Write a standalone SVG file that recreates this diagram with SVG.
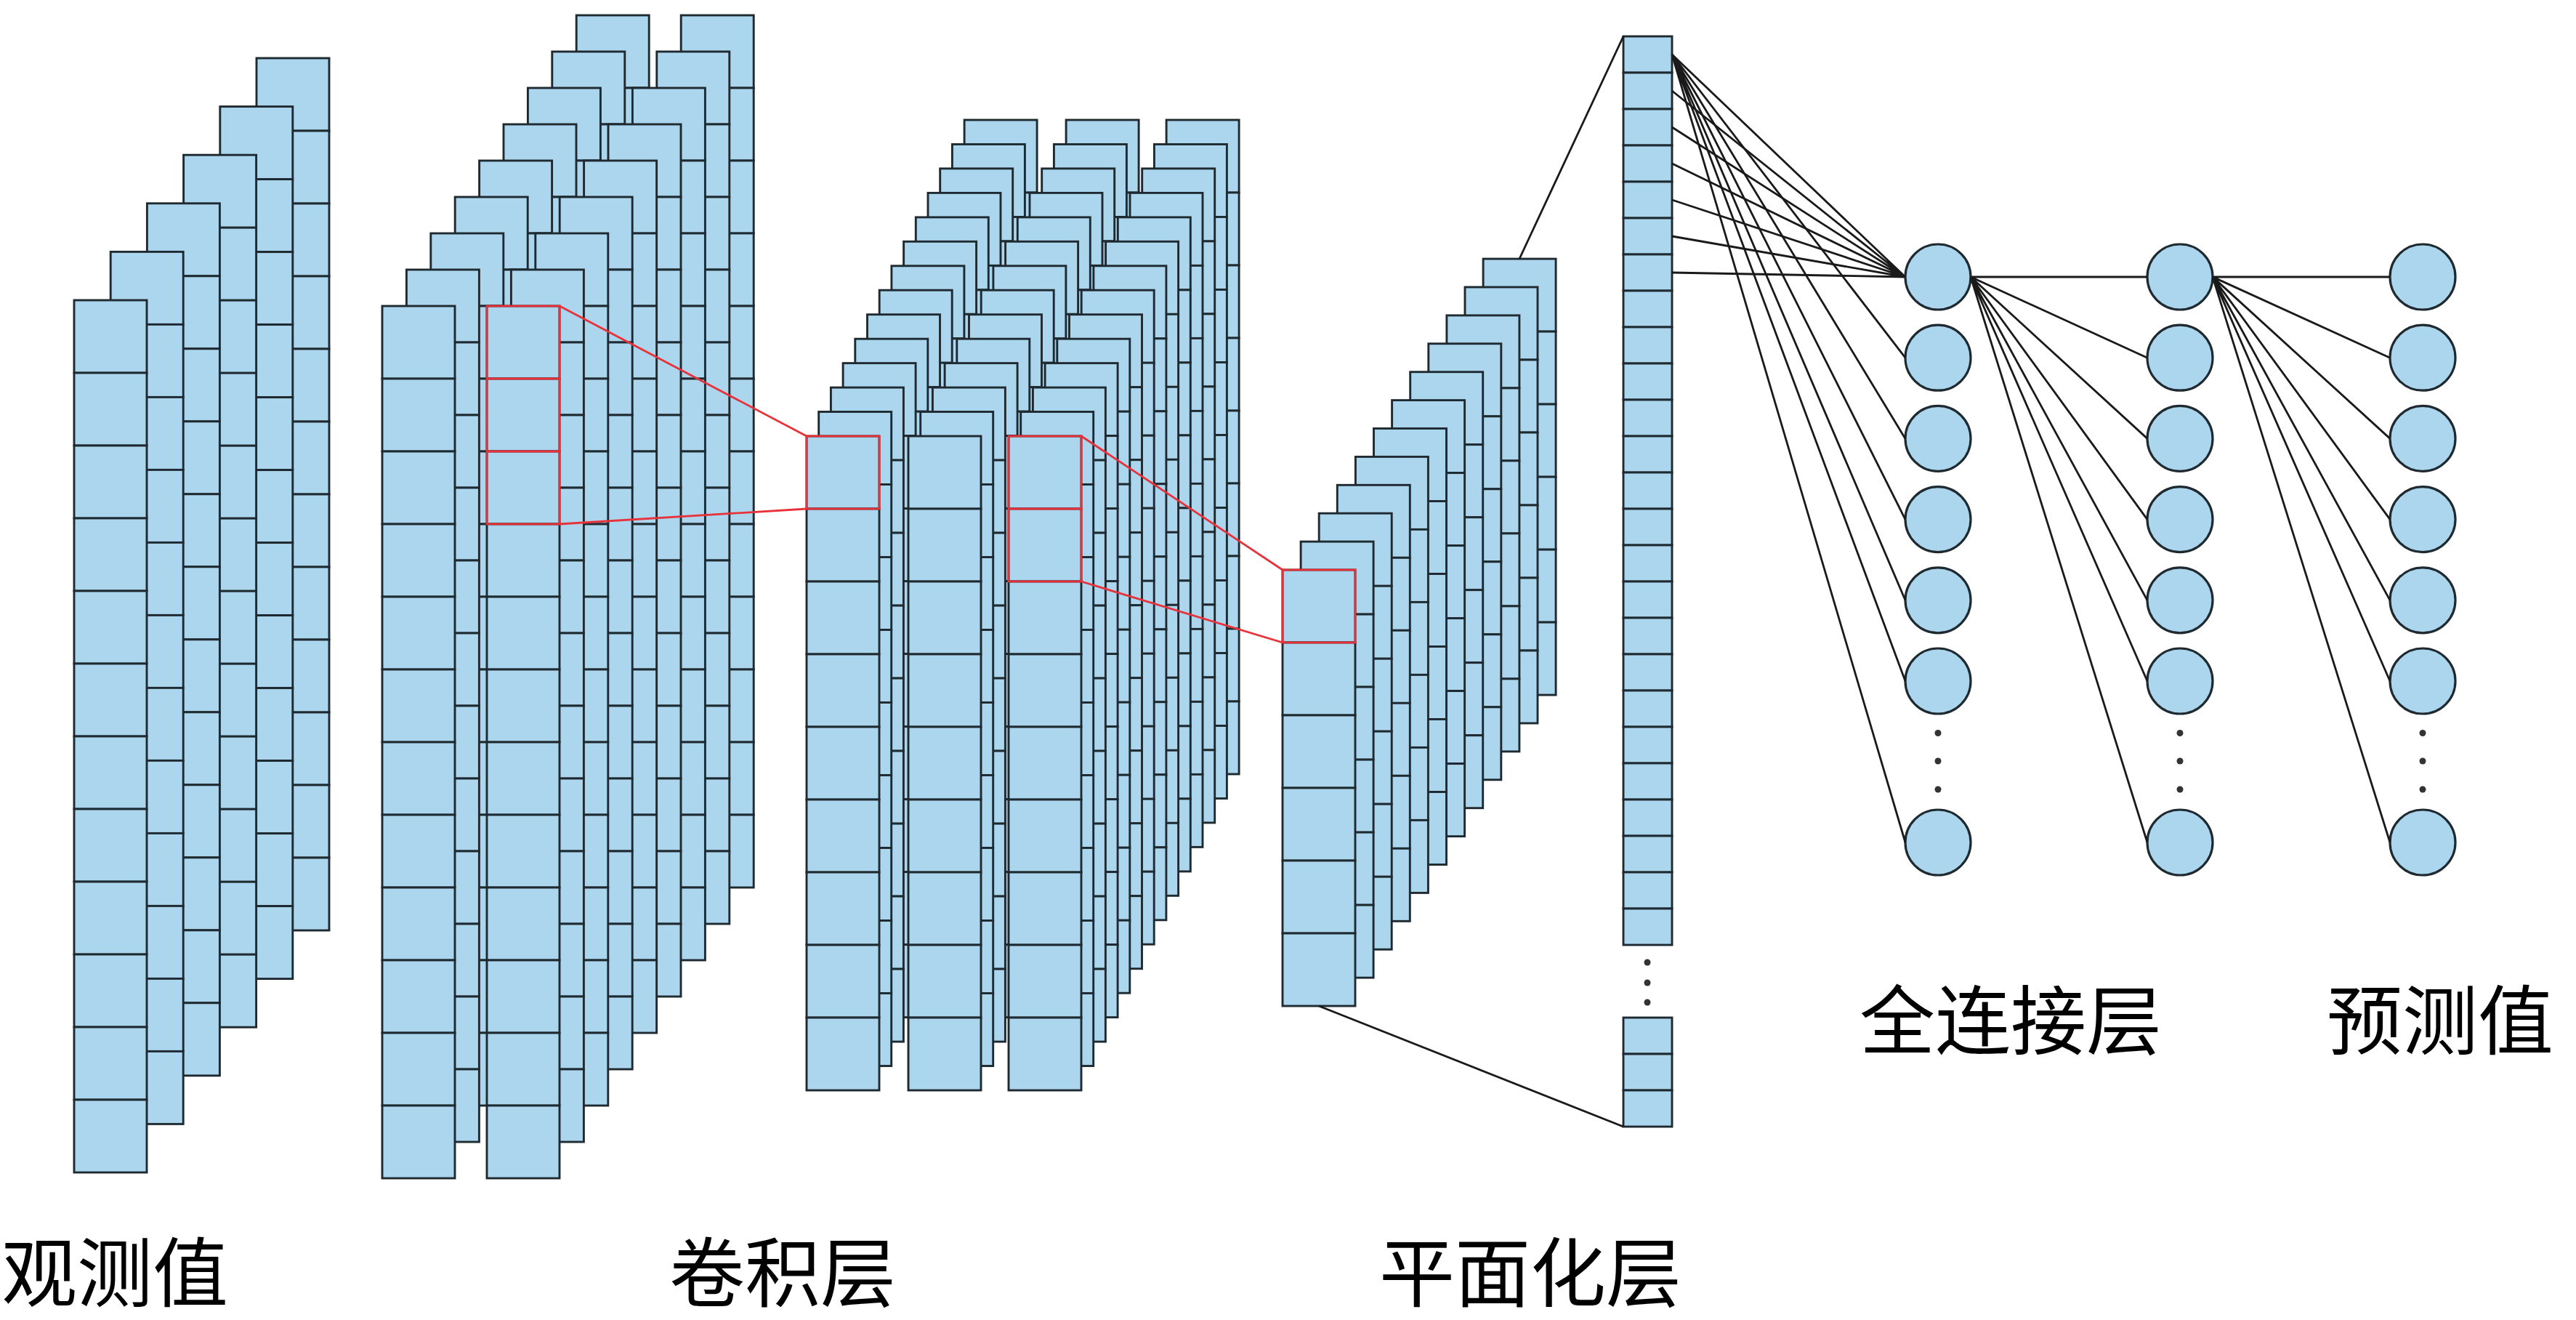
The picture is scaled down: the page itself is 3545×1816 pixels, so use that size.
<svg xmlns="http://www.w3.org/2000/svg" width="3545" height="1816" viewBox="0 0 3545 1816">
<style>
.lbl { font-family: "Noto Sans CJK SC", "Noto Sans CJK JP", sans-serif; font-size: 104px; fill: #000; text-anchor: middle; }
.hl { fill: none; stroke: #e8323a; stroke-width: 2.8; }
.edge { stroke: #1a1a1a; stroke-width: 2.8; fill: none; }
.redge { stroke: #e8323a; stroke-width: 2.8; fill: none; }
.node { fill: #acd6ee; stroke: #1f2a30; stroke-width: 3.2; }
.dot { fill: #333; }
</style>
<defs>
  <g id="col12" fill="#acd6ee" stroke="#1f2a30" stroke-width="2.9">
    <rect x="0" y="0" width="100" height="100"/><rect x="0" y="100" width="100" height="100"/>
    <rect x="0" y="200" width="100" height="100"/><rect x="0" y="300" width="100" height="100"/>
    <rect x="0" y="400" width="100" height="100"/><rect x="0" y="500" width="100" height="100"/>
    <rect x="0" y="600" width="100" height="100"/><rect x="0" y="700" width="100" height="100"/>
    <rect x="0" y="800" width="100" height="100"/><rect x="0" y="900" width="100" height="100"/>
    <rect x="0" y="1000" width="100" height="100"/><rect x="0" y="1100" width="100" height="100"/>
  </g>
  <g id="col9" fill="#acd6ee" stroke="#1f2a30" stroke-width="2.9">
    <rect x="0" y="0" width="100" height="100"/><rect x="0" y="100" width="100" height="100"/>
    <rect x="0" y="200" width="100" height="100"/><rect x="0" y="300" width="100" height="100"/>
    <rect x="0" y="400" width="100" height="100"/><rect x="0" y="500" width="100" height="100"/>
    <rect x="0" y="600" width="100" height="100"/><rect x="0" y="700" width="100" height="100"/>
    <rect x="0" y="800" width="100" height="100"/>
  </g>
  <g id="col6" fill="#acd6ee" stroke="#1f2a30" stroke-width="2.9">
    <rect x="0" y="0" width="100" height="100"/><rect x="0" y="100" width="100" height="100"/>
    <rect x="0" y="200" width="100" height="100"/><rect x="0" y="300" width="100" height="100"/>
    <rect x="0" y="400" width="100" height="100"/><rect x="0" y="500" width="100" height="100"/>
  </g>
  <rect id="vc" width="67" height="50" fill="#acd6ee" stroke="#1f2a30" stroke-width="2.9"/>
</defs>

<g id="observations">
  <use href="#col12" x="353" y="80"/>
  <use href="#col12" x="302.8" y="146.6"/>
  <use href="#col12" x="252.6" y="213.2"/>
  <use href="#col12" x="202.4" y="279.8"/>
  <use href="#col12" x="152.2" y="346.4"/>
  <use href="#col12" x="102" y="413"/>
</g>

<g id="conv1">
  <use href="#col12" x="793.2" y="21"/><use href="#col12" x="937.2" y="21"/>
  <use href="#col12" x="759.8" y="71"/><use href="#col12" x="903.8" y="71"/>
  <use href="#col12" x="726.4" y="121"/><use href="#col12" x="870.4" y="121"/>
  <use href="#col12" x="693" y="171"/><use href="#col12" x="837" y="171"/>
  <use href="#col12" x="659.6" y="221"/><use href="#col12" x="803.6" y="221"/>
  <use href="#col12" x="626.2" y="271"/><use href="#col12" x="770.2" y="271"/>
  <use href="#col12" x="592.8" y="321"/><use href="#col12" x="736.8" y="321"/>
  <use href="#col12" x="559.4" y="371"/><use href="#col12" x="703.4" y="371"/>
  <use href="#col12" x="526" y="421"/><use href="#col12" x="670" y="421"/>
  <rect class="hl" x="670" y="421" width="100" height="300"/>
  <path class="hl" d="M670 521H770M670 621H770"/>
</g>

<g id="conv2">
  <use href="#col9" x="1327.1" y="165"/><use href="#col9" x="1467.1" y="165"/><use href="#col9" x="1605.1" y="165"/>
  <use href="#col9" x="1310.4" y="198.5"/><use href="#col9" x="1450.4" y="198.5"/><use href="#col9" x="1588.4" y="198.5"/>
  <use href="#col9" x="1293.7" y="231.9"/><use href="#col9" x="1433.7" y="231.9"/><use href="#col9" x="1571.7" y="231.9"/>
  <use href="#col9" x="1277" y="265.4"/><use href="#col9" x="1417" y="265.4"/><use href="#col9" x="1555" y="265.4"/>
  <use href="#col9" x="1260.3" y="298.9"/><use href="#col9" x="1400.3" y="298.9"/><use href="#col9" x="1538.3" y="298.9"/>
  <use href="#col9" x="1243.6" y="332.3"/><use href="#col9" x="1383.6" y="332.3"/><use href="#col9" x="1521.6" y="332.3"/>
  <use href="#col9" x="1226.9" y="365.8"/><use href="#col9" x="1366.9" y="365.8"/><use href="#col9" x="1504.9" y="365.8"/>
  <use href="#col9" x="1210.2" y="399.2"/><use href="#col9" x="1350.2" y="399.2"/><use href="#col9" x="1488.2" y="399.2"/>
  <use href="#col9" x="1193.5" y="432.7"/><use href="#col9" x="1333.5" y="432.7"/><use href="#col9" x="1471.5" y="432.7"/>
  <use href="#col9" x="1176.8" y="466.2"/><use href="#col9" x="1316.8" y="466.2"/><use href="#col9" x="1454.8" y="466.2"/>
  <use href="#col9" x="1160.1" y="499.6"/><use href="#col9" x="1300.1" y="499.6"/><use href="#col9" x="1438.1" y="499.6"/>
  <use href="#col9" x="1143.4" y="533.1"/><use href="#col9" x="1283.4" y="533.1"/><use href="#col9" x="1421.4" y="533.1"/>
  <use href="#col9" x="1126.7" y="566.5"/><use href="#col9" x="1266.7" y="566.5"/><use href="#col9" x="1404.7" y="566.5"/>
  <use href="#col9" x="1110" y="600"/><use href="#col9" x="1250" y="600"/><use href="#col9" x="1388" y="600"/>
  <rect class="hl" x="1110" y="600" width="100" height="100"/>
  <rect class="hl" x="1388" y="600" width="100" height="200"/>
  <path class="hl" d="M1388 700H1488"/>
</g>

<g id="flatten-input">
  <use href="#col6" x="2041.1" y="356.1"/>
  <use href="#col6" x="2016" y="395"/>
  <use href="#col6" x="1990.9" y="433.9"/>
  <use href="#col6" x="1965.8" y="472.8"/>
  <use href="#col6" x="1940.7" y="511.7"/>
  <use href="#col6" x="1915.6" y="550.6"/>
  <use href="#col6" x="1890.5" y="589.5"/>
  <use href="#col6" x="1865.4" y="628.4"/>
  <use href="#col6" x="1840.3" y="667.3"/>
  <use href="#col6" x="1815.2" y="706.2"/>
  <use href="#col6" x="1790.1" y="745.1"/>
  <use href="#col6" x="1765" y="784"/>
  <rect class="hl" x="1765" y="784" width="100" height="100"/>
</g>

<g id="flat-vector">
  <use href="#vc" x="2234" y="50"/><use href="#vc" x="2234" y="100"/><use href="#vc" x="2234" y="150"/>
  <use href="#vc" x="2234" y="200"/><use href="#vc" x="2234" y="250"/><use href="#vc" x="2234" y="300"/>
  <use href="#vc" x="2234" y="350"/><use href="#vc" x="2234" y="400"/><use href="#vc" x="2234" y="450"/>
  <use href="#vc" x="2234" y="500"/><use href="#vc" x="2234" y="550"/><use href="#vc" x="2234" y="600"/>
  <use href="#vc" x="2234" y="650"/><use href="#vc" x="2234" y="700"/><use href="#vc" x="2234" y="750"/>
  <use href="#vc" x="2234" y="800"/><use href="#vc" x="2234" y="850"/><use href="#vc" x="2234" y="900"/>
  <use href="#vc" x="2234" y="950"/><use href="#vc" x="2234" y="1000"/><use href="#vc" x="2234" y="1050"/>
  <use href="#vc" x="2234" y="1100"/><use href="#vc" x="2234" y="1150"/><use href="#vc" x="2234" y="1200"/>
  <use href="#vc" x="2234" y="1250"/>
  <circle class="dot" cx="2267" cy="1324" r="4.5"/>
  <circle class="dot" cx="2267" cy="1352" r="4.5"/>
  <circle class="dot" cx="2267" cy="1379" r="4.5"/>
  <use href="#vc" x="2234" y="1400"/><use href="#vc" x="2234" y="1450"/><use href="#vc" x="2234" y="1500"/>
</g>

<g id="fc1">
  <g id="fc1-n1"><circle class="node" cx="2667" cy="381" r="45"/></g>
  <g id="fc1-n2"><circle class="node" cx="2667" cy="492.2" r="45"/></g>
  <g id="fc1-n3"><circle class="node" cx="2667" cy="603.4" r="45"/></g>
  <g id="fc1-n4"><circle class="node" cx="2667" cy="714.6" r="45"/></g>
  <g id="fc1-n5"><circle class="node" cx="2667" cy="825.8" r="45"/></g>
  <g id="fc1-n6"><circle class="node" cx="2667" cy="937" r="45"/></g>
  <g id="fc1-dots"><circle class="dot" cx="2667" cy="1008.5" r="4.5"/><circle class="dot" cx="2667" cy="1047" r="4.5"/><circle class="dot" cx="2667" cy="1086" r="4.5"/></g>
  <g id="fc1-n7"><circle class="node" cx="2667" cy="1159" r="45"/></g>
</g>
<g id="fc2">
  <g id="fc2-n1"><circle class="node" cx="3000" cy="381" r="45"/></g>
  <g id="fc2-n2"><circle class="node" cx="3000" cy="492.2" r="45"/></g>
  <g id="fc2-n3"><circle class="node" cx="3000" cy="603.4" r="45"/></g>
  <g id="fc2-n4"><circle class="node" cx="3000" cy="714.6" r="45"/></g>
  <g id="fc2-n5"><circle class="node" cx="3000" cy="825.8" r="45"/></g>
  <g id="fc2-n6"><circle class="node" cx="3000" cy="937" r="45"/></g>
  <g id="fc2-dots"><circle class="dot" cx="3000" cy="1008.5" r="4.5"/><circle class="dot" cx="3000" cy="1047" r="4.5"/><circle class="dot" cx="3000" cy="1086" r="4.5"/></g>
  <g id="fc2-n7"><circle class="node" cx="3000" cy="1159" r="45"/></g>
</g>
<g id="output">
  <g id="out-n1"><circle class="node" cx="3334" cy="381" r="45"/></g>
  <g id="out-n2"><circle class="node" cx="3334" cy="492.2" r="45"/></g>
  <g id="out-n3"><circle class="node" cx="3334" cy="603.4" r="45"/></g>
  <g id="out-n4"><circle class="node" cx="3334" cy="714.6" r="45"/></g>
  <g id="out-n5"><circle class="node" cx="3334" cy="825.8" r="45"/></g>
  <g id="out-n6"><circle class="node" cx="3334" cy="937" r="45"/></g>
  <g id="out-dots"><circle class="dot" cx="3334" cy="1008.5" r="4.5"/><circle class="dot" cx="3334" cy="1047" r="4.5"/><circle class="dot" cx="3334" cy="1086" r="4.5"/></g>
  <g id="out-n7"><circle class="node" cx="3334" cy="1159" r="45"/></g>
</g>

<g id="connectors">
  <path class="redge" d="M770 421L1110 600M770 721L1110 700"/>
  <path class="redge" d="M1488 600L1765 784M1488 800L1765 884"/>
  <path class="edge" d="M2091 356L2234 50M1815 1384L2234 1550"/>
  <path class="edge" d="M2301 75L2622 381M2301 125L2622 381M2301 175L2622 381M2301 225L2622 381M2301 275L2622 381M2301 325L2622 381M2301 375L2622 381"/>
  <path class="edge" d="M2301 75L2622 492.2M2301 75L2622 603.4M2301 75L2622 714.6M2301 75L2622 825.8M2301 75L2622 937M2301 75L2622 1159"/>
  <path class="edge" d="M2712 381L2955 381M2712 381L2955 492.2M2712 381L2955 603.4M2712 381L2955 714.6M2712 381L2955 825.8M2712 381L2955 937M2712 381L2955 1159"/>
  <path class="edge" d="M3045 381L3289 381M3045 381L3289 492.2M3045 381L3289 603.4M3045 381L3289 714.6M3045 381L3289 825.8M3045 381L3289 937M3045 381L3289 1159"/>
</g>

<g id="labels">
  <text class="lbl" x="158" y="1790">观测值</text>
  <text class="lbl" x="1077" y="1790">卷积层</text>
  <text class="lbl" x="2106" y="1790">平面化层</text>
  <text class="lbl" x="2767" y="1443">全连接层</text>
  <text class="lbl" x="3358" y="1443">预测值</text>
</g>
</svg>
